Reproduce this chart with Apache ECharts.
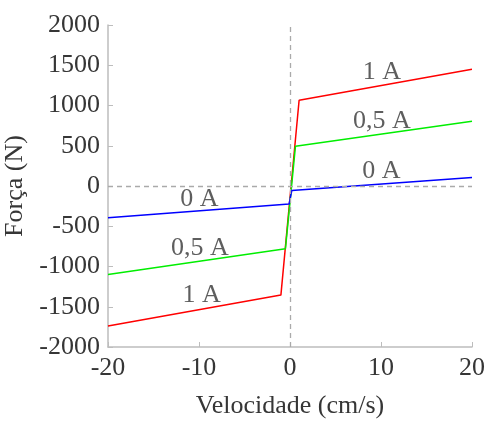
<!DOCTYPE html>
<html>
<head>
<meta charset="utf-8">
<script src="https://cdn.jsdelivr.net/npm/echarts@6/dist/echarts.min.js"></script>
<style>
  html, body { margin: 0; padding: 0; background: #fff; }
  #box { width: 489px; height: 421px; }
</style>
</head>
<body>
<div id="box"></div>
<script>
// ▼ curves: [velocity, force]
const aRed1A = [[-20, -1740], [-1, -1355], [1, 1065], [20, 1450]];
const aGreen05A = [[-20, -1100], [-0.5, -780], [0.6, 495], [20, 805]];
const aBlue0A = [[-20, -395], [-0.1, -225], [0.2, -55], [20, 105]];

// ▼ curve labels
const aLabelText = ['1 A', '0,5 A', '0 A', '0 A', '0,5 A', '1 A'];
const aLabelPos = [[10.1, 1413], [10.1, 811], [10.05, 179], [-9.95, -163], [-9.9, -777], [-9.7, -1360]];

const sFont = 'Liberation Serif';
const sText = '#363636';
const iFontSize = 26;

const myChart = echarts.init(document.getElementById('box'), null, { renderer: 'canvas' });

function makeLine(name, color, data){
    return {
        name,
        type: 'line',
        data,
        symbol: 'none',
        lineStyle: { color, width: 1.5 },
        silent: true,
        z: 3,
    };
}

const option = {
    animation: false,
    textStyle: { fontFamily: sFont },
    grid: { left: 108, right: 17, top: 25, bottom: 74, containLabel: false, outerBoundsMode: 'none' },
    xAxis: {
        type: 'value',
        min: -20, max: 20, interval: 10,
        name: 'Velocidade (cm/s)',
        nameLocation: 'middle',
        nameGap: 46,
        nameTextStyle: { fontFamily: sFont, fontSize: iFontSize, color: sText },
        axisLine: { onZero: false, lineStyle: { color: '#bdbdbd', width: 1.5 } },
        axisTick: { inside: true, length: 5, lineStyle: { color: '#bdbdbd' } },
        axisLabel: { fontFamily: sFont, fontSize: iFontSize, color: sText, margin: 8, formatter: v => String(v) },
        splitLine: { show: false },
    },
    yAxis: {
        type: 'value',
        min: -2000, max: 2000, interval: 500,
        name: 'Força (N)',
        nameLocation: 'middle',
        nameGap: 65,
        nameTextStyle: { fontFamily: sFont, fontSize: iFontSize, color: sText },
        axisLine: { show: true, onZero: false, lineStyle: { color: '#bdbdbd', width: 1.5 } },
        axisTick: { show: true, inside: true, length: 5, lineStyle: { color: '#bdbdbd' } },
        axisLabel: { fontFamily: sFont, fontSize: iFontSize, color: sText, margin: 8, formatter: v => String(v) },
        splitLine: { show: false },
    },
    series: [
        {
            type: 'line',
            data: [],
            silent: true,
            markLine: {
                silent: true,
                symbol: 'none',
                label: { show: false },
                lineStyle: { color: '#aaaaaa', type: [5, 4], width: 1.3 },
                data: [{ xAxis: 0 }, { yAxis: 0 }],
            },
        },
        makeLine('1 A', '#ff0000', aRed1A),
        makeLine('0,5 A', '#00ee00', aGreen05A),
        makeLine('0 A', '#0000ff', aBlue0A),
        {
            type: 'scatter',
            symbolSize: 0,
            silent: true,
            data: aLabelPos.map((cur, i) => ({ value: cur, name: aLabelText[i] })),
            label: {
                show: true,
                position: 'inside',
                formatter: p => p.name,
                fontFamily: sFont,
                fontSize: iFontSize,
                color: sText,
            },
            z: 4,
        },
    ],
};
myChart.setOption(option);
</script>
</body>
</html>
